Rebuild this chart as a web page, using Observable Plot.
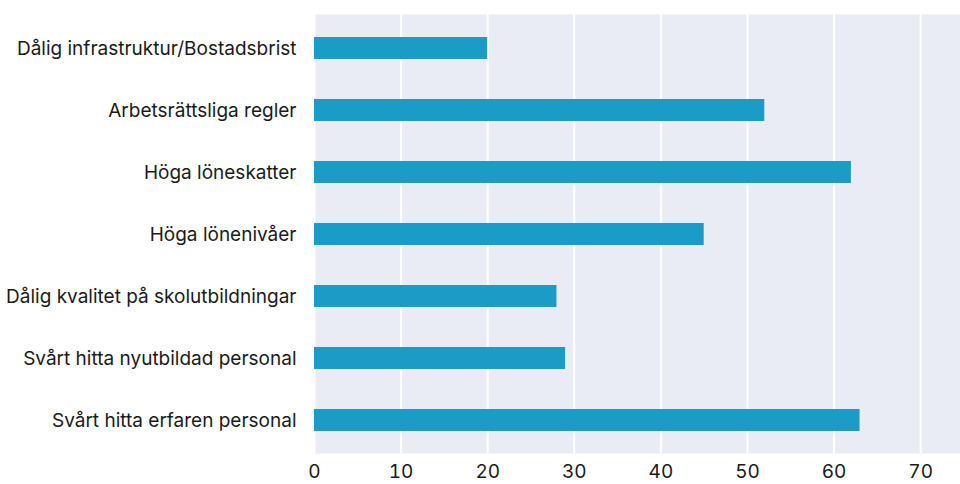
<!DOCTYPE html>
<html><head><meta charset="utf-8">
<script src="https://cdn.jsdelivr.net/npm/d3@7"></script>
<script src="https://cdn.jsdelivr.net/npm/@observablehq/plot@0.6"></script>
<style>body{margin:0;background:#fff;} svg{display:block;}</style>
</head><body><div id="chart"></div>
<script>
const categories = [
  "Dålig infrastruktur/Bostadsbrist",
  "Arbetsrättsliga regler",
  "Höga löneskatter",
  "Höga lönenivåer",
  "Dålig kvalitet på skolutbildningar",
  "Svårt hitta nyutbildad personal",
  "Svårt hitta erfaren personal"
];
const values = [20, 52, 62, 45, 28, 29, 63];
const xTicks = [0, 10, 20, 30, 40, 50, 60, 70];
const data = categories.map((c, i) => ({category: c, value: values[i]}));

const chart = Plot.plot({
  width: 960,
  height: 484,
  marginTop: 14,
  marginBottom: 31,
  marginLeft: 314,
  marginRight: 0,
  style: {fontFamily: "Inter, sans-serif", fontSize: "19px", fontWeight: 400, color: "#1a1a1a", background: "#fff"},
  x: {domain: [0, 74.6], ticks: xTicks, tickSize: 0, tickPadding: 11, label: null},
  y: {domain: categories, paddingInner: 0.65, paddingOuter: 0.325, tickSize: 0, tickPadding: 18, label: null},
  marks: [
    Plot.frame({fill: "#eaecf5", stroke: null}),
    Plot.gridX(xTicks, {stroke: "#fff", strokeWidth: 2, strokeOpacity: 1}),
    Plot.barX(data, {x: "value", y: "category", fill: "#1a9cc6"})
  ]
});
document.getElementById("chart").appendChild(chart);
</script></body></html>
